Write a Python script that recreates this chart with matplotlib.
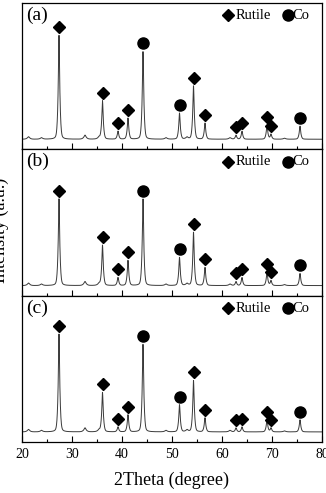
import numpy as np
import matplotlib
matplotlib.use("Agg")
import matplotlib.pyplot as plt

plt.rcParams['font.family'] = ['Liberation Serif', 'DejaVu Serif']

panel_labels = ["(a)", "(b)", "(c)"]
rutile_pos = [27.4, 36.1, 39.2, 41.2, 54.3, 56.6, 62.8, 64.0, 69.0, 69.8]
co_pos = [44.2, 51.5, 75.6]
rutile_heights = [
    [103, 38, 8, 21, 53, 16, 4, 8, 14, 5],
    [86, 40, 8, 25, 53, 18, 4, 8, 13, 5],
    [97, 39, 5, 17, 51, 14, 4, 5, 12, 4],
]
co_heights = [
    [87, 26, 13],
    [86, 28, 12],
    [87, 27, 12],
]
minor_pos = [21.3, 23.9, 32.6, 35.4, 48.8, 53.0, 61.6, 72.5]
minor_heights = [2.5, 1.5, 4, 2, 1.5, 2, 1.5, 1]
xticks = [20, 30, 40, 50, 60, 70, 80]

x = np.linspace(20, 80, 3000)

def profile(pos, h, w=0.13):
    return h * (0.7 / (1 + ((x - pos) / w) ** 2) + 0.3 * np.exp(-((x - pos) / (2.5 * w)) ** 2))

fig = plt.figure(figsize=(3.26, 4.93), dpi=100)
gs = fig.add_gridspec(3, 1, left=22/326, right=322/326, top=1-3/493, bottom=1-442/493, hspace=0)

for i in range(3):
    ax = fig.add_subplot(gs[i])
    y = np.zeros_like(x)
    for p, h in zip(rutile_pos, rutile_heights[i]):
        y += profile(p, h)
    for p, h in zip(co_pos, co_heights[i]):
        y += profile(p, h)
    for p, h in zip(minor_pos, minor_heights):
        y += profile(p, h, 0.2)
    ax.plot(x, y, color='#3a3a3a', lw=0.7)
    ax.plot(rutile_pos, np.array(rutile_heights[i]) + 8, 'D', color='black', ms=6.5, ls='none')
    ax.plot(co_pos, np.array(co_heights[i]) + 8, 'o', color='black', ms=8, ls='none')
    ax.set_xlim(20, 80)
    ax.set_ylim(-10, 135)
    ax.set_yticks([])
    ax.set_xticks(xticks)
    ax.set_xticks(np.arange(25, 80, 10), minor=True)
    ax.tick_params(axis='x', which='major', direction='in', length=4, width=0.8, top=False)
    ax.tick_params(axis='x', which='minor', direction='in', length=2, width=0.8, top=False)
    for s in ax.spines.values():
        s.set_linewidth(0.9)
    if i < 2:
        ax.set_xticklabels([])
    else:
        ax.tick_params(axis='x', labelsize=10, pad=4)
        ax.set_xlabel("2Theta (degree)", fontsize=13, labelpad=8)
    ax.text(0.015, 0.975, panel_labels[i], transform=ax.transAxes, fontsize=14, va='top', ha='left')
    ax.plot([0.687], [0.915], 'D', color='black', ms=6.5, transform=ax.transAxes, clip_on=False)
    ax.text(0.712, 0.915, "Rutile", transform=ax.transAxes, fontsize=10.5, va='center', ha='left')
    ax.plot([0.885], [0.915], 'o', color='black', ms=8, transform=ax.transAxes, clip_on=False)
    ax.text(0.902, 0.915, "Co", transform=ax.transAxes, fontsize=10.5, va='center', ha='left')

fig.text(0.002, 1-230/493, "Intensity (a.u.)", rotation=90, fontsize=13, va='center', ha='center')

fig.savefig("out.png", dpi=100)
